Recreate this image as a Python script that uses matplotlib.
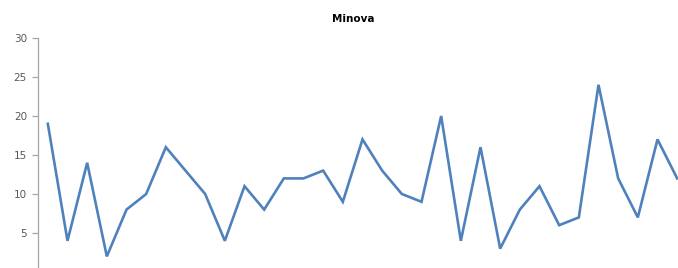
import matplotlib
matplotlib.use("Agg")
import matplotlib.pyplot as plt

title = "Minova"
values = [19, 4, 14, 2, 8, 10, 16, 13, 10, 4, 11, 8, 12, 12, 13, 9, 17,
          13, 10, 9, 20, 4, 16, 3, 8, 11, 6, 7, 24, 12, 7, 17, 12]
y_ticks = [5, 10, 15, 20, 25, 30]

W, H = 678, 268
fig = plt.figure(figsize=(W / 100, H / 100), dpi=100)
# plot area in pixels: left 38, right 687 (beyond crop), top 38, bottom 272 (beyond crop)
left, right, top, bottom = 38, 687, 38, 272
ax = fig.add_axes([left / W, (H - bottom) / H, (right - left) / W, (bottom - top) / H])

x = list(range(len(values)))
ax.plot(x, values, color="#4F81BD", linewidth=1.9, solid_joinstyle="miter")

ax.set_xlim(-0.5, len(values) - 0.5)
ax.set_ylim(0, 30)
ax.set_yticks(y_ticks)
ax.set_xticks([])

for s in ["top", "right", "bottom"]:
    ax.spines[s].set_visible(False)
ax.spines["left"].set_color("#A6A6A6")
ax.spines["left"].set_linewidth(0.9)
ax.tick_params(axis="y", direction="out", length=4, width=0.9, color="#A6A6A6",
               labelsize=7.5, labelcolor="#595959", pad=4)

fig.text(353 / W, 1 - 19 / H, title, ha="center", va="center",
         fontsize=7.5, fontweight="bold", color="#000000")

fig.savefig("out.png", dpi=100)
